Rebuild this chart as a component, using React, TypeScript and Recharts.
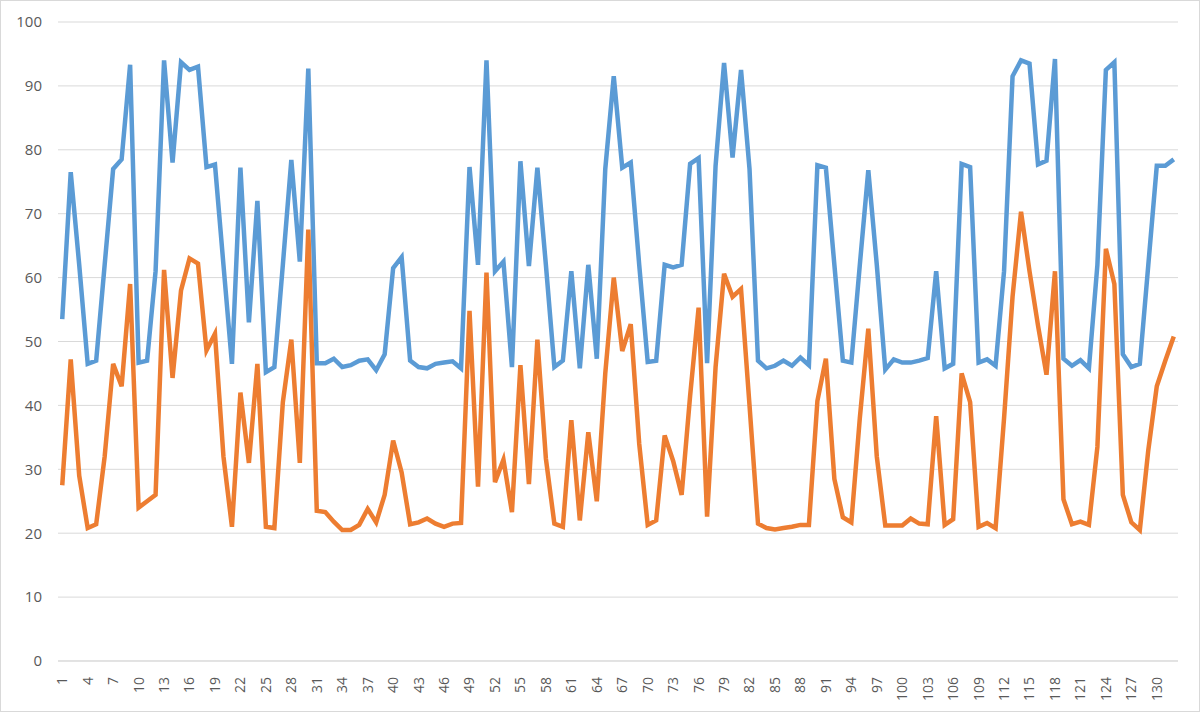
import React from "react";
import { LineChart, Line, XAxis, YAxis, CartesianGrid } from "recharts";

const categories: number[] = Array.from({ length: 132 }, (_, i) => i + 1);

const seriesBlue: number[] = [
  53.5, 76.5, 62, 46.5, 47, 62, 77, 78.5, 93.3, 46.7,
  47, 61, 94, 78, 93.7, 92.5, 93, 77.3, 77.7, 62,
  46.5, 77.2, 53, 72, 45.2, 46, 62, 78.4, 62.5, 92.7,
  46.6, 46.6, 47.3, 46, 46.3, 47, 47.2, 45.5, 48, 61.5,
  63.2, 47, 46, 45.8, 46.5, 46.7, 46.9, 45.8, 77.3, 62,
  94, 61, 62.5, 46, 78.2, 61.8, 77.2, 62, 46, 47,
  61, 45.8, 62, 47.3, 77, 91.5, 77.2, 78, 62, 46.8,
  47, 62, 61.6, 62, 77.8, 78.7, 46.6, 77.5, 93.6, 78.8,
  92.5, 77, 47, 45.8, 46.2, 47, 46.2, 47.5, 46.3, 77.6,
  77.2, 62, 47, 46.7, 62, 76.8, 62, 45.6, 47.2, 46.7,
  46.7, 47, 47.4, 61, 45.8, 46.5, 77.8, 77.3, 46.7, 47.2,
  46.2, 61, 91.5, 94, 93.5, 77.7, 78.3, 94.2, 47.3, 46.2,
  47.1, 45.8, 62, 92.5, 93.7, 48, 46, 46.5, 62, 77.5,
  77.5, 78.5,
];

const seriesOrange: number[] = [
  27.5, 47.2, 29, 20.8, 21.4, 32, 46.5, 43, 59, 24,
  25, 26, 61.2, 44.3, 58, 63, 62.2, 48.6, 51.2, 32,
  21, 42, 31, 46.5, 21, 20.8, 40.5, 50.3, 31, 67.5,
  23.5, 23.3, 21.8, 20.5, 20.5, 21.3, 23.8, 21.7, 26, 34.5,
  29.5, 21.4, 21.7, 22.3, 21.5, 21, 21.5, 21.6, 54.8, 27.3,
  60.8, 28, 31.5, 23.3, 46.3, 27.7, 50.3, 31.7, 21.5, 21,
  37.7, 22, 35.8, 25, 45, 60, 48.5, 52.7, 34, 21.3,
  22, 35.3, 31.3, 26, 41.5, 55.3, 22.6, 46, 60.6, 57,
  58.2, 40, 21.5, 20.8, 20.6, 20.8, 21, 21.3, 21.3, 40.7,
  47.3, 28.5, 22.5, 21.7, 38, 52, 32, 21.2, 21.2, 21.2,
  22.3, 21.5, 21.4, 38.3, 21.3, 22.2, 45, 40.5, 21, 21.6,
  20.8, 38, 57, 70.3, 61, 52.5, 44.8, 61, 25.3, 21.4,
  21.8, 21.3, 33.5, 64.5, 59, 26, 21.7, 20.5, 33, 43,
  47, 50.8,
];

const yTicks: number[] = [0, 10, 20, 30, 40, 50, 60, 70, 80, 90, 100];

const data = categories.map((c, i) => ({
  cat: String(c),
  blue: seriesBlue[i],
  orange: seriesOrange[i],
}));

const FONT = "'Open Sans', 'Noto Sans', sans-serif";

const XTick = (props: any) => {
  const { x, y, payload } = props;
  return (
    <text
      x={0}
      y={0}
      transform={`translate(${x},${y + 8}) rotate(-90)`}
      textAnchor="end"
      dy="0.35em"
      fill="#595959"
      fontSize={14}
      fontFamily={FONT}
    >
      {payload.value}
    </text>
  );
};

export default function App() {
  return (
    <div
      style={{
        position: "absolute",
        left: 0,
        top: 0,
        width: 1200,
        height: 712,
        boxSizing: "border-box",
        border: "1px solid #d9d9d9",
        background: "#ffffff",
      }}
    >
      <LineChart
        width={1198}
        height={710}
        data={data}
        margin={{ top: 21, right: 21, left: 0, bottom: 0 }}
      >
        <CartesianGrid vertical={false} stroke="#d9d9d9" strokeWidth={1} />
        <XAxis
          dataKey="cat"
          interval={2}
          height={50}
          padding={{ left: 4.24, right: 4.24 }}
          axisLine={{ stroke: "#d9d9d9" }}
          tickLine={false}
          tick={<XTick />}
        />
        <YAxis
          width={57}
          domain={[0, 100]}
          ticks={yTicks}
          axisLine={false}
          tickLine={false}
          tickSize={0}
          tickMargin={16}
          tick={{ fill: "#595959", fontSize: 15, fontFamily: FONT }}
        />
        <Line
          type="linear"
          dataKey="blue"
          stroke="#5B9BD5"
          strokeWidth={4.5}
          dot={false}
          isAnimationActive={false}
        />
        <Line
          type="linear"
          dataKey="orange"
          stroke="#ED7D31"
          strokeWidth={4.5}
          dot={false}
          isAnimationActive={false}
        />
      </LineChart>
    </div>
  );
}
